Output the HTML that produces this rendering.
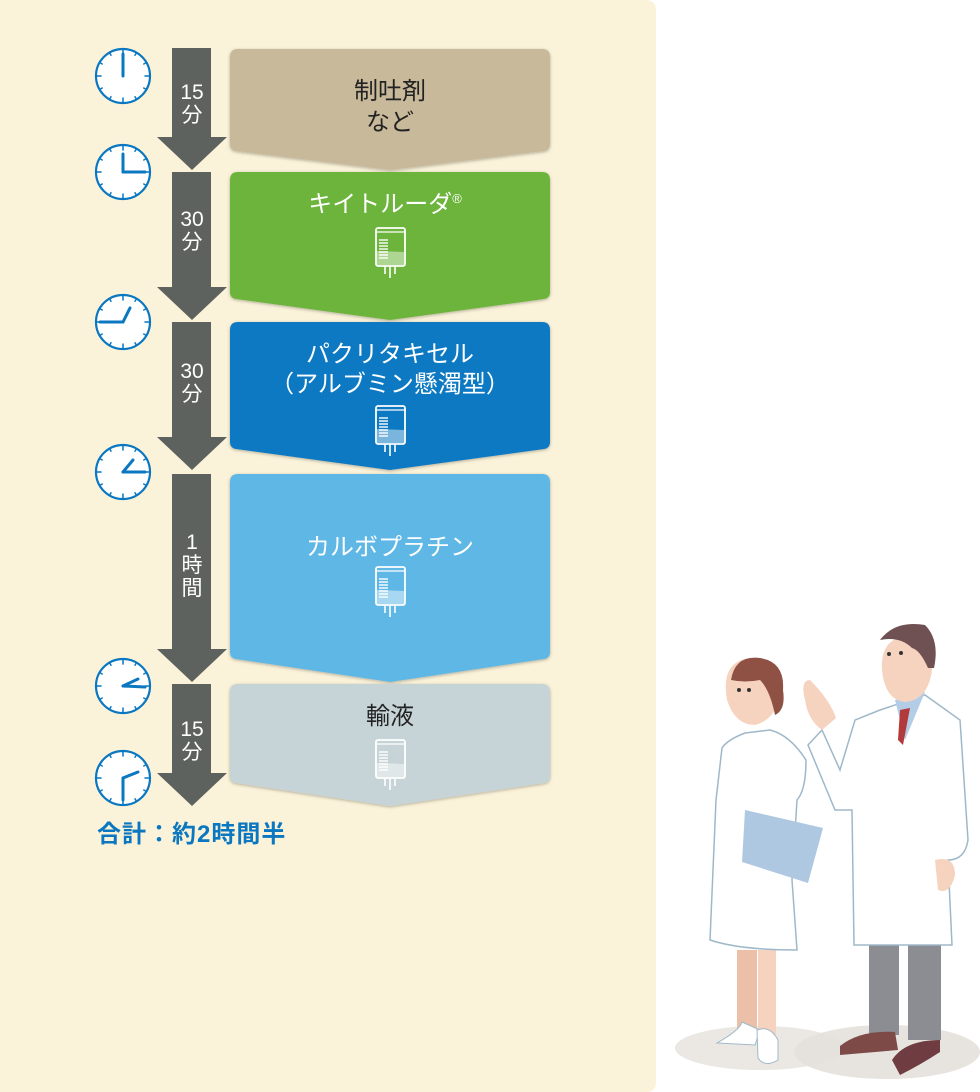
<!DOCTYPE html>
<html><head><meta charset="utf-8"><style>
html,body{margin:0;padding:0;background:#fff;}
svg{display:block;font-family:"Liberation Sans","Noto Sans CJK JP",sans-serif;}
</style></head><body>
<svg width="980" height="1092" viewBox="0 0 980 1092" xmlns="http://www.w3.org/2000/svg">
<defs>
<filter id="sh" x="-5%" y="-5%" width="110%" height="115%"><feDropShadow dx="0" dy="1" stdDeviation="1.5" flood-opacity="0.3"/></filter>
<g id="bag">
 <rect x="-14" y="0" width="29" height="38" rx="2" fill="none" stroke="#fff" stroke-width="1.8"/>
 <line x1="-14" y1="4" x2="15" y2="4" stroke="#fff" stroke-width="1.2"/>
 <path d="M-13 23 L14 24 L14 37 L-13 37Z" fill="#fff" opacity="0.45"/>
 <g stroke="#fff" stroke-width="1.4"><line x1="-11" y1="12" x2="-2" y2="12"/><line x1="-11" y1="15" x2="-2" y2="15"/><line x1="-11" y1="18" x2="-2" y2="18"/><line x1="-11" y1="21" x2="-2" y2="21"/><line x1="-11" y1="24" x2="-2" y2="24"/><line x1="-11" y1="27" x2="-2" y2="27"/><line x1="-11" y1="30" x2="-2" y2="30"/></g>
 <g stroke="#fff" stroke-width="1.6" fill="none"><line x1="-5" y1="38" x2="-5" y2="46"/><line x1="0" y1="38" x2="0" y2="50"/><line x1="5" y1="38" x2="5" y2="46"/></g>
</g>
<g id="clk">
 <circle r="27" fill="#fff" stroke="#0a77c0" stroke-width="2.2"/>
 <g stroke="#0a77c0" stroke-width="1.5">
 <line x1="0" y1="-27" x2="0" y2="-22"/><line x1="0" y1="27" x2="0" y2="22"/><line x1="-27" y1="0" x2="-22" y2="0"/><line x1="27" y1="0" x2="22" y2="0"/>
 <line x1="13.5" y1="-23.4" x2="12" y2="-20.8"/><line x1="23.4" y1="-13.5" x2="20.8" y2="-12"/><line x1="23.4" y1="13.5" x2="20.8" y2="12"/><line x1="13.5" y1="23.4" x2="12" y2="20.8"/>
 <line x1="-13.5" y1="-23.4" x2="-12" y2="-20.8"/><line x1="-23.4" y1="-13.5" x2="-20.8" y2="-12"/><line x1="-23.4" y1="13.5" x2="-20.8" y2="12"/><line x1="-13.5" y1="23.4" x2="-12" y2="20.8"/>
 </g>
</g>
</defs>
<path d="M0 0 H646 Q656 0 656 10 V1082 Q656 1092 646 1092 H0Z" fill="#fbf3d9"/>

<g fill="#5e625f">
<path d="M172 48 H211 V137 H227 L192 170 L157 137 H172Z"/>
<path d="M172 172 H211 V287 H227 L192 320 L157 287 H172Z"/>
<path d="M172 322 H211 V437 H227 L192 470 L157 437 H172Z"/>
<path d="M172 474 H211 V649 H227 L192 682 L157 649 H172Z"/>
<path d="M172 684 H211 V773 H227 L192 806 L157 773 H172Z"/>
</g>
<g fill="#fff" font-size="21" text-anchor="middle">
<text x="192" y="99">15</text><text x="192" y="122">分</text>
<text x="192" y="226">30</text><text x="192" y="249">分</text>
<text x="192" y="378">30</text><text x="192" y="401">分</text>
<text x="192" y="549">1</text><text x="192" y="572">時</text><text x="192" y="595">間</text>
<text x="192" y="736">15</text><text x="192" y="759">分</text>
</g>

<g filter="url(#sh)">
<path d="M238 49 H542 Q550 49 550 57 V144 Q550 150 544 151 L390 170 L236 151 Q230 150 230 144 V57 Q230 49 238 49Z" fill="#c8b99a"/>
<path d="M238 172 H542 Q550 172 550 180 V292 Q550 298 544 299 L390 320 L236 299 Q230 298 230 292 V180 Q230 172 238 172Z" fill="#6cb43a"/>
<path d="M238 322 H542 Q550 322 550 330 V442 Q550 448 544 449 L390 470 L236 449 Q230 448 230 442 V330 Q230 322 238 322Z" fill="#0a79c2"/>
<path d="M238 474 H542 Q550 474 550 482 V652 Q550 658 544 659 L390 682 L236 659 Q230 658 230 652 V482 Q230 474 238 474Z" fill="#5fb7e5"/>
<path d="M238 684 H542 Q550 684 550 692 V776 Q550 782 544 783 L390 806 L236 783 Q230 782 230 776 V692 Q230 684 238 684Z" fill="#c6d4d7"/>
</g>
<g font-size="24" text-anchor="middle">
<text x="390" y="99" fill="#222">制吐剤</text>
<text x="390" y="130" fill="#222">など</text>
<text x="385" y="212" fill="#fff">キイトルーダ<tspan font-size="13" dy="-9">®</tspan></text>
<text x="390" y="362" fill="#fff">パクリタキセル</text>
<text x="390" y="392" fill="#fff">（アルブミン懸濁型）</text>
<text x="390" y="555" fill="#fff">カルボプラチン</text>
<text x="390" y="724" fill="#222">輸液</text>
</g>
<use href="#bag" x="390" y="228"/>
<use href="#bag" x="390" y="406"/>
<use href="#bag" x="390" y="567"/>
<use href="#bag" x="390" y="740"/>

<g stroke="#0a77c0" stroke-width="3" stroke-linecap="round">
<use href="#clk" x="123" y="76"/><line x1="123" y1="76" x2="123" y2="54"/>
<use href="#clk" x="123" y="172"/><line x1="123" y1="172" x2="123" y2="154"/><line x1="123" y1="172" x2="145" y2="172"/>
<use href="#clk" x="123" y="322"/><line x1="123" y1="322" x2="130" y2="308"/><line x1="123" y1="322" x2="100" y2="322"/>
<use href="#clk" x="123" y="472"/><line x1="123" y1="472" x2="133" y2="460"/><line x1="123" y1="472" x2="145" y2="472"/>
<use href="#clk" x="123" y="686"/><line x1="123" y1="686" x2="138" y2="679"/><line x1="123" y1="686" x2="145" y2="687"/>
<use href="#clk" x="123" y="778"/><line x1="123" y1="778" x2="138" y2="772"/><line x1="123" y1="778" x2="123" y2="800"/>
</g>
<text x="97" y="842" font-size="24" font-weight="bold" fill="#0a77c0" letter-spacing="1">合計：約2時間半</text>

<ellipse cx="760" cy="1048" rx="85" ry="22" fill="#ebe8e3"/>
<ellipse cx="887" cy="1052" rx="93" ry="27" fill="#e4e1dc" opacity="0.9"/>
<rect x="737" y="950" width="20" height="80" fill="#ecc0a8"/>
<rect x="758" y="950" width="18" height="85" fill="#f6d3bf"/>
<path d="M717 1043 Q740 1030 742 1022 L760 1030 L755 1045Z" fill="#fff" stroke="#9fb8c9"/>
<path d="M757 1030 Q770 1025 778 1040 L778 1060 Q765 1068 758 1058Z" fill="#fff" stroke="#9fb8c9"/>
<path d="M745 733 Q727 740 722 748 L716 800 L710 940 Q740 950 797 950 L792 880 L797 800 Q806 790 806 760 Q790 735 770 730Z" fill="#fff" stroke="#9fb8c9" stroke-width="1.5"/>
<path d="M745 810 L823 828 L808 883 L742 862Z" fill="#afc8e2"/>
<path d="M727 700 Q720 660 752 658 Q782 660 780 695 Q775 720 755 725 Q735 725 727 700Z" fill="#f6d3bf"/>
<path d="M731 680 Q735 655 760 658 Q785 662 783 690 Q786 710 775 715 Q770 690 760 680 Q745 683 731 680Z" fill="#8e5144"/>
<circle cx="739" cy="690" r="2" fill="#333"/><circle cx="749" cy="690" r="2" fill="#333"/>
<rect x="869" y="940" width="30" height="95" fill="#8c8c93"/>
<rect x="908" y="940" width="33" height="100" fill="#8c8c93"/>
<path d="M840 1046 Q860 1030 895 1032 L898 1050 L840 1055Z" fill="#7d4a48"/>
<path d="M892 1060 Q905 1040 940 1040 L940 1052 Q920 1065 900 1075Z" fill="#6e3c41"/>
<path d="M880 710 L855 720 L840 770 L822 730 L808 745 L835 810 L852 810 L854 945 L952 945 L948 860 Q965 860 968 840 L960 720 L925 695Z" fill="#fff" stroke="#9fb8c9" stroke-width="1.5"/>
<path d="M895 700 L925 692 L905 740 Z" fill="#b4cde6"/>
<path d="M900 710 L910 708 L903 745 L898 740Z" fill="#b23a3a"/>
<path d="M805 700 Q800 680 810 680 Q830 700 836 718 L822 730 Q808 720 805 700Z" fill="#f6d3bf"/>
<path d="M935 860 Q955 855 955 875 Q950 895 938 890Z" fill="#f6d3bf"/>
<path d="M882 670 Q880 640 905 636 Q932 640 932 670 Q928 700 905 702 Q885 700 882 670Z" fill="#f6d3bf"/>
<path d="M880 640 Q895 620 925 625 Q940 640 934 668 L928 668 Q920 650 912 648 Q900 636 880 640Z" fill="#6f5153"/>
<circle cx="889" cy="654" r="2" fill="#333"/><circle cx="901" cy="653" r="2" fill="#333"/>
</svg>
</body></html>
